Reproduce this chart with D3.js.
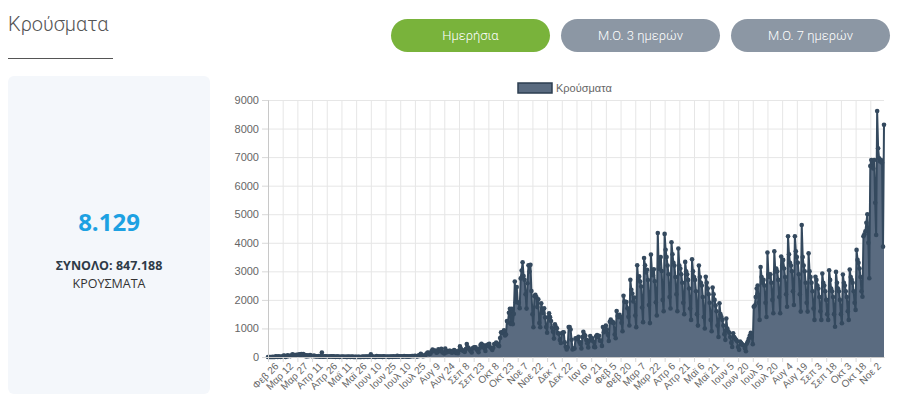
<!DOCTYPE html>
<html><head><meta charset="utf-8">
<script src="https://cdn.jsdelivr.net/npm/d3@7"></script>
<style>
body{margin:0;background:#fff;}
svg{display:block;}
</style></head><body>
<svg id="c" width="900" height="403"></svg>
<script>
// ---- DATA ----
const seriesName = "Κρούσματα";
const startDate = "2020-02-26";
// daily cases, one row per week (Wed..Tue)
const cases = [
1,2,1,0,0,3,0,
2,22,14,1,28,11,5,
10,18,49,38,3,21,56,
31,46,31,53,94,71,71,
48,78,71,74,95,60,102,
98,100,56,70,20,62,29,
39,71,40,31,25,50,25,
15,25,20,32,9,21,156,
13,11,28,22,16,10,12,
15,19,25,13,21,10,6,
12,14,12,0,10,6,16,
8,10,7,3,4,12,10,
3,9,15,5,1,3,3,
1,4,6,1,1,8,20,
4,8,17,20,6,15,9,
97,7,15,9,5,2,35,
16,14,12,16,18,4,24,
17,10,9,17,4,6,12,
18,5,21,9,15,11,45,
13,24,17,22,11,16,34,
20,23,21,13,19,21,25,
33,32,28,43,30,19,25,
57,38,110,75,30,40,36,
81,121,153,151,101,126,203,
262,204,230,217,150,170,269,
209,235,284,160,163,126,293,
158,204,185,221,214,168,152,
190,241,218,143,157,131,228,
372,284,241,226,199,181,281,
453,340,304,254,213,161,301,
335,339,338,266,234,165,299,
416,460,348,412,308,212,407,
388,444,458,340,303,247,324,
453,454,508,460,402,381,667,
865,841,882,935,753,789,1259,
1211,1547,1690,1155,1690,1152,1509,
2646,1917,2448,1914,1896,1710,2752,
3029,3316,2835,2702,2198,1695,2581,
3209,2995,3227,2311,1498,1044,2131,
2179,2102,1747,2018,1193,1044,1881,
1678,1541,1709,1383,1052,848,1394,
1534,1395,1259,1026,886,645,1149,
1047,1006,843,816,591,491,831,
860,864,511,356,262,341,1047,
1047,962,603,262,288,302,652,
621,657,710,523,453,302,700,
883,784,746,598,479,336,573,
737,636,654,550,351,345,723,
765,698,740,568,573,388,1053,
868,913,1098,960,776,562,1233,
1308,1213,1236,1187,784,658,1607,
1435,1395,1475,1399,1197,902,2147,
1931,1934,1926,1708,1406,1105,2702,
2353,2223,1945,2082,1451,1045,3215,
2702,2823,2640,2470,1734,1220,3465,
3215,2965,3052,2697,1817,1187,3586,
3020,2863,3071,2655,1913,1451,4340,
3089,3401,3500,3009,2000,1600,4311,
3757,3500,3200,2900,2100,1700,4020,
3600,3300,3200,2800,2200,1600,3800,
3200,3100,2900,2600,1900,1500,3330,
3000,2900,2700,2400,1700,1300,3420,
3000,2800,2700,2300,1500,1100,3200,
2800,2600,2500,2100,1400,1000,2810,
2600,2400,2200,1900,1300,900,2430,
2200,2000,1800,1600,1100,700,1880,
1500,1400,1300,1100,800,600,1350,
1000,900,850,700,500,350,830,
700,650,600,550,350,250,540,
500,450,420,400,300,200,470,
550,650,750,850,700,450,1760,
1800,2100,2400,2500,1900,1300,3150,
2800,2600,2700,2500,1900,1400,3660,
2900,2800,2900,2600,2000,1530,3700,
3000,3100,3000,2700,2100,1530,3520,
3200,3400,3100,2800,2200,1760,4230,
3600,3300,3200,3000,2300,1820,4230,
3700,3500,3300,2900,2200,1590,4620,
3500,3200,3000,2600,1900,1590,3630,
3000,2800,2600,2300,1700,1300,2810,
2700,2500,2400,2100,1600,1300,2920,
2600,2500,2300,2000,1500,1300,3040,
2700,2400,2300,2100,1500,1060,2980,
2600,2400,2300,2000,1500,1180,2890,
2600,2500,2300,2100,1600,1300,3060,
2800,2700,2600,2300,1900,1650,3750,
3400,3300,3100,2800,2300,2110,4230,
4300,4400,4700,5000,4000,2760,6690,
6900,6800,6600,6900,5400,4270,8613,
7310,6960,6850,6900,6800,3864,8129
];
const tickEvery = 15;
const tickLabels = ["Φεβ 26","Μαρ 12","Μαρ 27","Απρ 11","Απρ 26","Μαϊ 11","Μαϊ 26","Ιουν 10","Ιουν 25","Ιουλ 10","Ιουλ 25","Αυγ 9","Αυγ 24","Σεπ 8","Σεπ 23","Οκτ 8","Οκτ 23","Νοε 7","Νοε 22","Δεκ 7","Δεκ 22","Ιαν 6","Ιαν 21","Φεβ 5","Φεβ 20","Μαρ 7","Μαρ 22","Απρ 6","Απρ 21","Μαϊ 6","Μαϊ 21","Ιουν 5","Ιουν 20","Ιουλ 5","Ιουλ 20","Αυγ 4","Αυγ 19","Σεπ 3","Σεπ 18","Οκτ 3","Οκτ 18","Νοε 2"];
const yTicks = [0,1000,2000,3000,4000,5000,6000,7000,8000,9000];
const buttons = ["Ημερήσια","Μ.Ο. 3 ημερών","Μ.Ο. 7 ημερών"];
const pageTitle = "Κρούσματα";
const totalCases = 847188;
const totalLabel = "ΣΥΝΟΛΟ";
const unitLabel = "ΚΡΟΥΣΜΑΤΑ";

// ---- DRAW ----
const svg = d3.select("#c");
const grLocale = d3.formatLocale({decimal:",", thousands:".", grouping:[3], currency:["","€"]});
const fmt = grLocale.format(",d");

// title + underline
svg.append("text").attr("x",8).attr("y",31).text(pageTitle)
  .attr("font-family","Roboto, sans-serif").attr("font-weight",300).attr("font-size",20).attr("fill","#555");
svg.append("line").attr("x1",8).attr("x2",113).attr("y1",58.5).attr("y2",58.5).attr("stroke","#555").attr("stroke-width",1);

// card
svg.append("rect").attr("x",8).attr("y",76).attr("width",202).attr("height",318).attr("rx",6).attr("fill","#f4f7fb");
svg.append("text").attr("x",109).attr("y",231).attr("text-anchor","middle").text(fmt(cases[cases.length-1]))
  .attr("font-family","'Open Sans', sans-serif").attr("font-weight",700).attr("font-size",24).attr("fill","#1da1e2");
svg.append("text").attr("x",109).attr("y",270).attr("text-anchor","middle").text(totalLabel + ": " + fmt(totalCases))
  .attr("font-family","'Open Sans', sans-serif").attr("font-weight",700).attr("font-size",12.5).attr("fill","#2e3b48");
svg.append("text").attr("x",109).attr("y",288).attr("text-anchor","middle").text(unitLabel)
  .attr("font-family","'Open Sans', sans-serif").attr("font-size",12.5).attr("fill","#333");

// buttons
const btnX = d3.scaleBand().domain(buttons).range([391, 890]).paddingInner(0.0647);
const bg = svg.selectAll("g.btn").data(buttons).join("g").attr("class","btn")
  .attr("transform", d => `translate(${btnX(d)},19)`);
bg.append("rect").attr("width", btnX.bandwidth()).attr("height",33).attr("rx",16.5)
  .attr("fill",(d,i)=> i===0 ? "#79b33b" : "#8c97a4");
bg.append("text").attr("x", btnX.bandwidth()/2).attr("y",21).attr("text-anchor","middle").text(d=>d)
  .attr("font-family","Roboto, sans-serif").attr("font-weight",300).attr("font-size",13).attr("fill","#fff");

// chart
const x = d3.scaleLinear().domain([0, cases.length-1]).range([268, 884]);
const y = d3.scaleLinear().domain([0, 9000]).range([357, 100]);
const tickIdx = tickLabels.map((d,i)=> i*tickEvery);

const g = svg.append("g");
// horizontal grid
g.append("g").attr("transform","translate(268,0)")
  .call(d3.axisLeft(y).tickValues(yTicks).tickSize(-(884-268)).tickSizeOuter(0).tickPadding(0).tickFormat(""))
  .call(s=>s.select(".domain").remove())
  .call(s=>s.selectAll("line").attr("stroke","#e6e6e6"));
// vertical grid
g.append("g").attr("transform","translate(0,357)")
  .call(d3.axisBottom(x).tickValues(tickIdx).tickSize(-(357-100)).tickSizeOuter(0).tickFormat(""))
  .call(s=>s.select(".domain").remove())
  .call(s=>s.selectAll("line").attr("stroke","#e6e6e6"));

// area + line + points
const area = d3.area().x((d,i)=>x(i)).y0(y(0)).y1(d=>y(d));
const line = d3.line().x((d,i)=>x(i)).y(d=>y(d));
g.append("path").datum(cases).attr("d",area).attr("fill","#5a6b80");
g.append("path").datum(cases).attr("d",line).attr("fill","none").attr("stroke","#34495e").attr("stroke-width",2).attr("stroke-linejoin","round");
g.append("g").selectAll("circle").data(cases).join("circle")
  .attr("cx",(d,i)=>x(i)).attr("cy",d=>y(d)).attr("r",2.3).attr("fill","#34495e");

// y axis
const ya = g.append("g").attr("transform","translate(268,0)")
  .call(d3.axisLeft(y).tickValues(yTicks).tickSize(6).tickPadding(3).tickFormat(d3.format("d")));
ya.select(".domain").attr("stroke","#c8c8c8");
ya.selectAll("line").attr("stroke","#d8d8d8");
ya.selectAll("text").attr("font-family","'Liberation Sans', Arial, sans-serif").attr("font-size",11).attr("fill","#666");

// x axis
const xa = g.append("g").attr("transform","translate(0,357)")
  .call(d3.axisBottom(x).tickValues(tickIdx).tickSize(5).tickSizeOuter(0).tickFormat((d,i)=>tickLabels[i]));
xa.select(".domain").attr("stroke","#c8c8c8");
xa.selectAll("line").attr("stroke","#d8d8d8");
xa.selectAll("text").attr("font-family","'Liberation Sans', Arial, sans-serif").attr("font-size",10).attr("fill","#666")
  .attr("text-anchor","end").attr("dy","0.3em").attr("transform","translate(3,2) rotate(-45)");

// legend
const lg = svg.append("g").attr("transform","translate(518,83)");
lg.append("rect").attr("width",34).attr("height",10).attr("fill","#5a6b80").attr("stroke","#2c3e50").attr("stroke-width",1.5);
lg.append("text").attr("x",38).attr("y",8.5).text(seriesName)
  .attr("font-family","'Liberation Sans', Arial, sans-serif").attr("font-size",11).attr("fill","#666");
</script>
</body></html>
